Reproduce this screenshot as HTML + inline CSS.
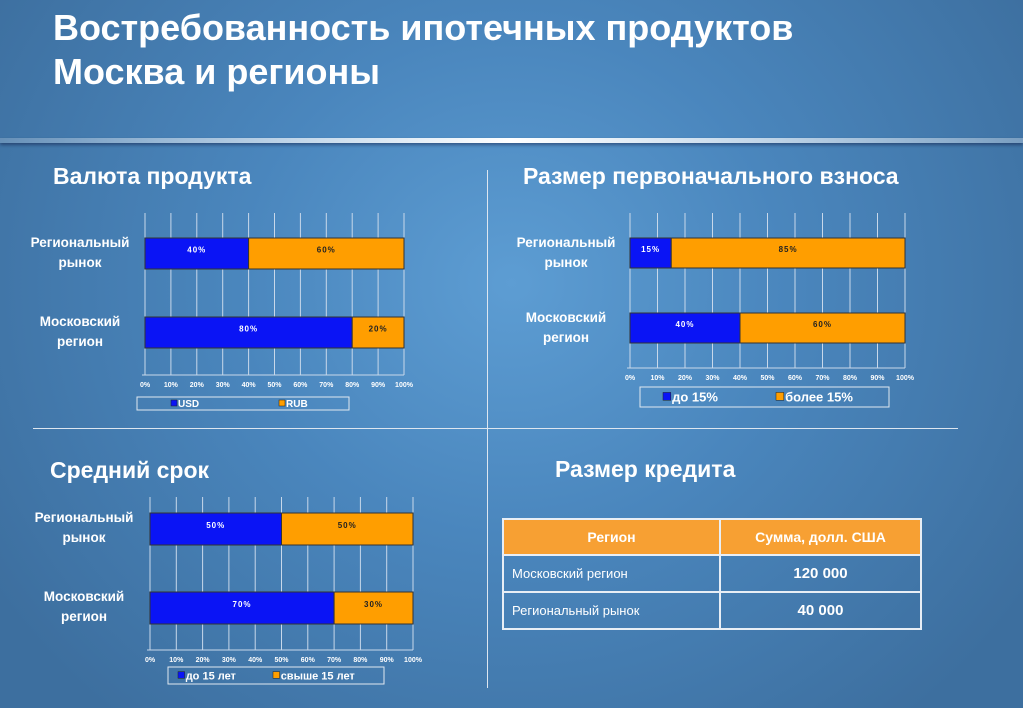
<!DOCTYPE html>
<html><head><meta charset="utf-8">
<style>
body{margin:0;width:1023px;height:708px;overflow:hidden;font-family:"Liberation Sans",sans-serif;}
#bg{position:absolute;left:0;top:0;width:1023px;height:708px;background:radial-gradient(ellipse 60% 80% at 50% 40%,#5d9dd3 0%,#4a86bd 45%,#3d6f9f 100%);}
.t{position:absolute;color:#fff;font-weight:bold;white-space:nowrap;}
svg{position:absolute;left:0;top:0;}
table{position:absolute;left:502px;top:518px;width:420px;border-collapse:collapse;color:#fff;}
td{border:2px solid #e8eef5;height:34px;font-size:13px;padding:0 8px;}
</style></head><body>
<div id="bg"></div>
<div class="t" style="left:53px;top:6px;font-size:36px;line-height:44px;">Востребованность ипотечных продуктов<br>Москва и регионы</div>
<div style="position:absolute;left:0;top:138px;width:1023px;height:5px;background:linear-gradient(90deg,rgba(255,255,255,0.2),#fff 50%,rgba(255,255,255,0.3));box-shadow:0 2px 3px rgba(0,0,40,0.4);"></div>
<div style="position:absolute;left:487px;top:170px;width:1px;height:518px;background:#dde6f0;"></div>
<div style="position:absolute;left:33px;top:428px;width:925px;height:1px;background:#dde6f0;"></div>
<div class="t" style="left:53px;top:163px;font-size:23px;">Валюта продукта</div>
<div class="t" style="left:523px;top:163px;font-size:23px;">Размер первоначального взноса</div>
<div class="t" style="left:50px;top:457px;font-size:23px;">Средний срок</div>
<div class="t" style="left:555px;top:456px;font-size:23px;">Размер кредита</div>
<svg id="svg" width="1023" height="708"></svg>
<table>
<tr style="background:#f7a033;font-weight:bold;font-size:14px;"><td style="text-align:center;width:199px;font-size:14px;">Регион</td><td style="text-align:center;font-size:14px;">Сумма, долл. США</td></tr>
<tr><td style="height:35px;">Московский регион</td><td style="text-align:center;font-weight:bold;font-size:15px;">120 000</td></tr>
<tr><td style="height:35px;">Региональный рынок</td><td style="text-align:center;font-weight:bold;font-size:15px;">40 000</td></tr>
</table>
<script>
const categories=[["Региональный","рынок"],["Московский","регион"]];
const currencyUSD=[40,80];
const downUnder15=[15,40];
const termUnder15=[50,70];
const tickLabels=["0%","10%","20%","30%","40%","50%","60%","70%","80%","90%","100%"];
const currencyLegend=["USD","RUB"];
const downLegend=["до 15%","более 15%"];
const termLegend=["до 15 лет","свыше 15 лет"];
const NS="http://www.w3.org/2000/svg";
const svg=document.getElementById('svg');
function mk(tag,attrs,parent){const e=document.createElementNS(NS,tag);for(const k in attrs)e.setAttribute(k,attrs[k]);(parent||svg).appendChild(e);return e;}
function chart(name,c,first,legend){
  const g=mk('g',{});
  
  
  const x=v=>c.x0+(c.x1-c.x0)*v/100;
  tickLabels.forEach((t,i)=>{
    const v=i*10;
    const l=mk('line',{x1:x(v),x2:x(v),y1:c.top,y2:c.bot,stroke:'#c8d8ea','stroke-width':1},g);
    
    
    const tx=mk('text',{x:x(v),y:c.tickY,'text-anchor':'middle','font-size':7,'font-weight':'bold',fill:'#fff'},g);
    tx.textContent=t;
    
    
  });
  const ax=mk('line',{x1:c.x0-3,x2:c.x1,y1:c.bot,y2:c.bot,stroke:'#c8d8ea'},g);
  
  
  first.forEach((v,i)=>{
    const y=c.bars[i];
    const b1=mk('rect',{x:x(0),y:y,width:x(v)-x(0),height:c.bh,fill:'#0a14f5',stroke:'#333','stroke-width':1},g);
    
    
    const b2=mk('rect',{x:x(v),y:y,width:x(100)-x(v),height:c.bh,fill:'#ff9e00',stroke:'#333','stroke-width':1},g);
    
    
    const t1=mk('text',{x:(x(0)+x(v))/2,y:y+c.bh/2-1,'text-anchor':'middle','font-size':8,'font-weight':'bold',fill:'#fff','letter-spacing':1},g);
    t1.textContent=v+'%';
    
    
    const t2=mk('text',{x:(x(v)+x(100))/2,y:y+c.bh/2-1,'text-anchor':'middle','font-size':8,'font-weight':'bold',fill:'#222','letter-spacing':1},g);
    t2.textContent=(100-v)+'%';
    
    
    categories[i].forEach((s,j)=>{
      const ct=mk('text',{x:c.catX,y:y+9+j*20,'text-anchor':'middle','font-size':13.5,'font-weight':'bold',fill:'#fff'},g);
      ct.textContent=s;
      
      
    });
  });
  const L=c.leg;
  const lb=mk('rect',{x:L.x,y:L.y,width:L.w,height:L.h,fill:'none',stroke:'#e0e8f0','stroke-width':1},g);
  
  
  legend.forEach((s,i)=>{
    const sx=L.items[i];
    const sw=mk('rect',{x:sx,y:L.y+L.h/2-L.fs*0.35,width:L.fs*0.6,height:L.fs*0.6,fill:i?'#ff9e00':'#0a14f5',stroke:'#222','stroke-width':0.5},g);
    
    
    const lt=mk('text',{x:sx+L.fs*0.7,y:L.y+L.h/2+L.fs*0.35,'font-size':L.fs,'font-weight':'bold',fill:'#fff'},g);
    lt.textContent=s;
    
    
  });
}
chart('currency-chart',{x0:145,x1:404,top:213,bot:375,tickY:387,bars:[238,317],bh:31,catX:80,
  leg:{x:137,y:397,w:212,h:13,fs:10,items:[171,279]}},currencyUSD,currencyLegend);
chart('downpayment-chart',{x0:630,x1:905,top:213,bot:368,tickY:380,bars:[238,313],bh:30,catX:566,
  leg:{x:640,y:387,w:249,h:20,fs:13,items:[663,776]}},downUnder15,downLegend);
chart('term-chart',{x0:150,x1:413,top:497,bot:650,tickY:662,bars:[513,592],bh:32,catX:84,
  leg:{x:168,y:667,w:216,h:17,fs:11,items:[178,273]}},termUnder15,termLegend);
</script>
</body></html>
